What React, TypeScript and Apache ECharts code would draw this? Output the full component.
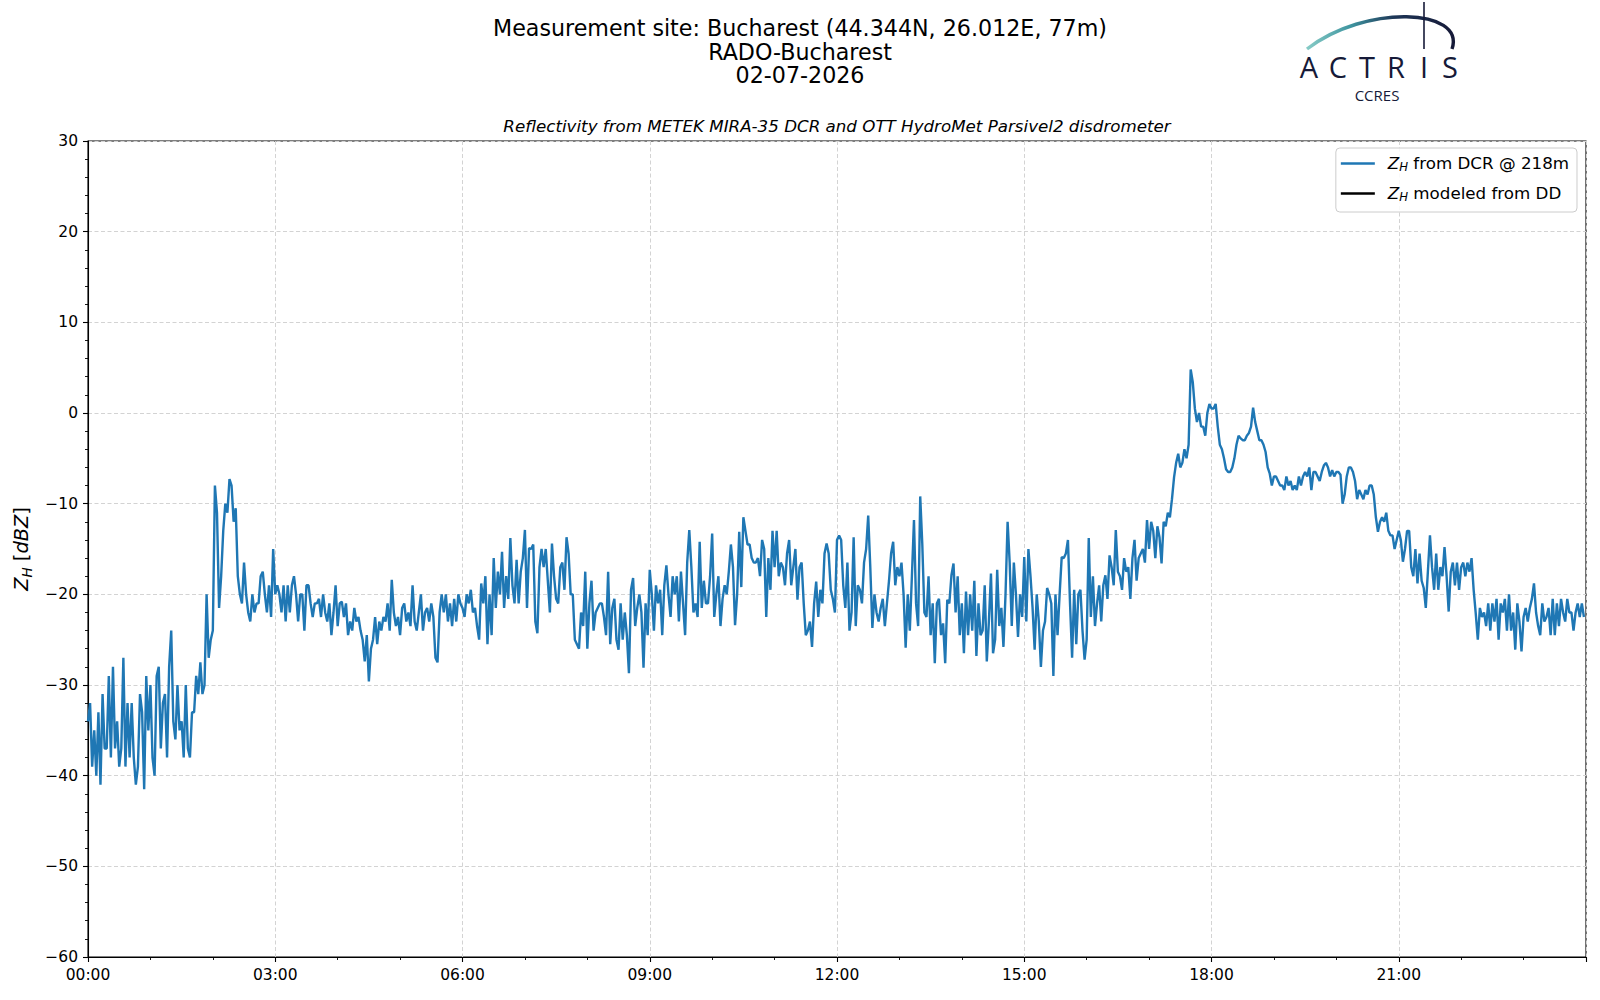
import React, { useEffect, useRef } from "react";
import * as echarts from "echarts";

const FONT = "'DejaVu Sans', sans-serif";
const STEP_MIN = 2;

// Z_H from DCR @ 218m, one value every 2 minutes
const zh0000to0324 = [-34, -32, -39, -35, -40, -33, -41, -31, -37, -37, -29, -38, -28, -37, -34, -39, -37, -27, -39, -32, -38, -32, -38, -41, -39, -31, -33, -41.5, -29, -35, -30, -38, -40, -29, -28, -37, -32, -31, -38, -28, -24, -34, -36, -30, -35, -34, -38, -30, -37, -38, -33, -33, -29, -31, -27.5, -31, -30, -20, -27, -25, -24,
  -8, -11, -21.5, -18, -13, -10, -11, -7.3, -8, -12, -10.5, -18, -20, -21, -16.5, -20, -22, -23, -20, -22, -21, -21, -18, -17.5, -20, -22, -19, -22.5, -15, -20, -19, -20, -22, -19, -23, -19, -22, -19, -18, -20, -23, -20];
const zh0326to0650 = [-20, -24, -19, -19, -21, -22.5, -21, -21, -20.5, -22.5, -20, -22, -23, -21, -24.5, -22, -19, -23.5, -21, -20.8, -22.5, -21, -24.5, -23, -24, -21.5, -23, -22.5, -24, -25, -27.4, -24.5, -29.6, -26, -25, -22.5, -25.5, -23, -24, -22.5, -23, -21, -24, -18.4, -22, -23.5, -22.5, -24.5, -21.5, -21, -23, -22, -23.5, -19, -23, -24, -22, -20, -24, -22, -21.5, -23, -21, -22.5, -27, -27.5, -22, -20, -22, -20, -23, -21, -23.5, -20.5, -23, -20, -21, -21.5, -22.5, -20, -21, -19.5, -22, -21.5, -23.5, -25, -18.8, -21, -18, -25.5, -20, -24.5, -16, -21.5, -17.5, -20, -15.3, -21.5, -18, -20.5, -13.8, -19, -21];
const zh0652to1016 = [-16.2, -21, -17.5, -16, -12.9, -21.5, -14.9, -15, -14.5, -23, -24.3, -17, -15, -17, -15, -18.5, -22, -14.4, -18, -20.5, -21, -17, -16.5, -19.5, -13.7, -15.5, -20, -20, -25, -25.5, -26, -22, -23.5, -17.5, -26, -21, -18.5, -24, -22, -21.5, -21, -21, -22.5, -24.5, -17.5, -25.5, -21.5, -20.5, -25, -26.1, -21, -25, -22, -24.5, -28.7, -19.5, -18.2, -23.5, -21.5, -20, -22, -28.1, -21, -24.5, -17.3, -20, -24, -19, -21, -19.5, -24.5, -19, -16.8, -20, -22.5, -18, -20, -18, -23, -17.5, -21, -24.5, -16.5, -12.9, -17, -22, -21, -22.5, -14.2, -21.5, -18.5, -21, -21, -18, -13.3, -22.5, -20, -18, -23.5, -20.5, -19, -20, -17.5];
const zh1018to1340 = [-14.5, -17, -23.4, -20, -13.1, -19.2, -11.5, -13, -14.5, -14.5, -16, -16.5, -16.5, -16, -18, -14, -15, -22.5, -16, -19.5, -13, -17, -13, -18, -16.5, -17, -19, -15.5, -14, -19, -17, -15, -20.6, -17, -16.5, -21, -24.5, -24, -23, -25.8, -21, -18.6, -22.5, -19.5, -21, -15.5, -14.4, -15.5, -19.5, -20.5, -22, -14, -13.5, -14, -19, -21.5, -16.5, -24, -22, -13.7, -23.5, -19, -19.5, -21, -16.5, -15, -11.3, -17, -23.7, -20, -22, -23, -21.5, -20.5, -23.5, -21, -18.5, -15.5, -14.2, -19, -17, -18, -16.5, -20, -25.9, -20, -24, -18, -11.8, -21, -23.5, -9.2, -14.5, -22, -22.5, -18, -24.5, -21, -27.6, -21, -20.5, -24.5];
const zh1342to1708 = [-23.2, -27.6, -20.6, -21, -17.9, -16.6, -22, -18, -24.5, -21, -26.5, -19.7, -24.5, -20, -24, -18.5, -26.8, -21, -24.5, -24, -19, -27.4, -23, -17.7, -26.5, -25, -17.3, -23.5, -21.5, -25.8, -20, -12, -16.5, -23.5, -16.5, -20, -24.7, -20, -22.5, -15.9, -23, -15, -18, -21.5, -26.1, -20, -23, -28, -24, -23, -19.3, -20, -21, -29, -20, -24.5, -20, -15.9, -16, -15.5, -14, -21, -27, -19.5, -25.5, -20, -19.5, -24, -27.2, -25, -13.8, -22.5, -18, -23.5, -21, -19, -23, -19, -17.9, -20.5, -15.7, -17, -19, -12.9, -17.5, -18, -19.5, -16, -17.5, -17, -20.5, -16, -14, -18.5, -16, -15.5, -15, -16.5, -11.8, -15, -12, -13, -16, -12.5];
const zh1710to2032 = [-13.7, -16.6, -12, -12.5, -11, -11.5, -9.5, -7.1, -5.5, -4.5, -6, -5.5, -4, -5, -3.5, 4.8, 3.4, 0.5, -1, 0, -1.5, -1.5, -2.5, 0, 1, 0.5, 0.5, 1, -1.5, -3.5, -4, -5, -6.2, -6.5, -6.5, -6, -5, -3.5, -2.5, -2.8, -3, -3, -2.5, -2.2, -1.5, 0.6, -1, -2, -3, -3, -3.5, -4.3, -6, -6.7, -8, -7, -7, -7.5, -8, -8, -8.5, -7, -8, -7.5, -8.5, -8, -8.5, -7, -8, -7, -6.5, -7, -6, -8.5, -6.5, -6.5, -7, -7.5, -6.5, -5.8, -5.5, -6, -7, -6.3, -7, -6.5, -6.5, -6.8, -10, -9, -7, -6, -6, -6.5, -7.5, -9.5, -8.5, -9, -9.5, -8.5, -9, -8];
const zh2034to2358 = [-8, -9, -11.5, -13.1, -12, -11.5, -12, -11, -13, -13.5, -13.5, -15, -14, -13, -14, -16.4, -15, -13, -13, -17, -18, -15, -18.8, -15.5, -18.5, -19.3, -21.5, -17.5, -13.5, -17, -19.5, -15.5, -19.5, -17, -18, -14.8, -18, -21.9, -17.5, -16.5, -19, -16.5, -19.5, -17, -16.5, -18, -16.5, -17.5, -16, -19.5, -22.1, -25, -21.5, -22.5, -22, -23.5, -21, -24, -21, -23, -20.5, -25, -21, -22, -20.5, -24, -20, -24, -22, -26.1, -21, -23, -26.3, -22.5, -21.5, -23, -21.5, -20.5, -18.8, -22, -23.5, -24.5, -21, -23, -22.5, -21.5, -24.5, -20.5, -24.5, -21, -23.5, -20.5, -22, -23, -20.5, -22, -22, -24, -22, -21, -22.5, -21, -22.5];

const zhDcr = [...zh0000to0324, ...zh0326to0650, ...zh0652to1016, ...zh1018to1340, ...zh1342to1708, ...zh1710to2032, ...zh2034to2358];
const zhModeled: number[] = [];

const timeLabels = ["00:00", "03:00", "06:00", "09:00", "12:00", "15:00", "18:00", "21:00"];
const titleLines = ["Measurement site: Bucharest (44.344N, 26.012E, 77m)", "RADO-Bucharest", "02-07-2026"];
const subTitle = "Reflectivity from METEK MIRA-35 DCR and OTT HydroMet Parsivel2 disdrometer";
const seriesNames = ["ZH from DCR @ 218m", "ZH modeled from DD"];
const legendRich = ["{z|Z}{s|H}{t| from DCR @ 218m}", "{z|Z}{s|H}{t| modeled from DD}"];
const logoLetters = ["A", "C", "T", "R", "I", "S"];

export default function App() {
  const ref = useRef<HTMLDivElement>(null);
  useEffect(() => {
    const chart = echarts.init(ref.current!, null, { renderer: "svg" });
    const dcrData = zhDcr.map((v, i) => [i * STEP_MIN, v]);
    const letterX = [1309, 1338, 1367, 1396, 1424, 1450];
    const navy = "#161a38";

    const option: any = {
      animation: false,
      backgroundColor: "#ffffff",
      textStyle: { fontFamily: FONT },
      grid: {
        left: 88, right: 14, top: 141, bottom: 43,
        show: true, borderColor: "#000", borderWidth: 1.1, backgroundColor: "transparent",
      },
      xAxis: {
        type: "value", min: 0, max: 1440, interval: 180,
        axisLine: { show: true, onZero: false, lineStyle: { color: "#000", width: 1.1 } },
        axisTick: { show: true, length: 5, lineStyle: { color: "#000", width: 1.1 } },
        minorTick: { show: true, splitNumber: 3, length: 3, lineStyle: { color: "#000", width: 0.9 } },
        axisLabel: {
          color: "#000", fontSize: 15.5, fontFamily: FONT, margin: 10,
          formatter: (v: number) => (v % 180 === 0 && v < 1440 ? timeLabels[v / 180] : ""),
        },
        splitLine: { show: true, lineStyle: { color: "#d3d3d3", width: 1, type: [4, 2.5] } },
      },
      yAxis: {
        type: "value", min: -60, max: 30, interval: 10,
        axisLine: { show: true, onZero: false, lineStyle: { color: "#000", width: 1.1 } },
        axisTick: { show: true, length: 5, lineStyle: { color: "#000", width: 1.1 } },
        minorTick: { show: true, splitNumber: 5, length: 3, lineStyle: { color: "#000", width: 0.9 } },
        axisLabel: {
          color: "#000", fontSize: 15.5, fontFamily: FONT, margin: 10,
          formatter: (v: number) => (v < 0 ? "\u2212" + Math.abs(v) : String(v)),
        },
        splitLine: { show: true, lineStyle: { color: "#d3d3d3", width: 1, type: [4, 2.5] } },
      },
      legend: {
        orient: "vertical", right: 23, top: 148,
        icon: "rect", itemWidth: 34, itemHeight: 2.3, itemGap: 11,
        padding: [6, 8, 9, 5],
        borderColor: "#cccccc", borderWidth: 1, borderRadius: 4,
        backgroundColor: "rgba(255,255,255,0.85)",
        selectedMode: false,
        data: seriesNames,
        formatter: (name: string) => legendRich[seriesNames.indexOf(name)],
        textStyle: {
          color: "#000", fontFamily: FONT, fontSize: 16.7,
          rich: {
            z: { fontSize: 16.7, fontStyle: "italic", fontFamily: FONT, color: "#000", padding: [0, 0, 2, 8], verticalAlign: "bottom" },
            s: { fontSize: 11.7, fontStyle: "italic", fontFamily: FONT, color: "#000", verticalAlign: "bottom" },
            t: { fontSize: 16.7, fontFamily: FONT, color: "#000", padding: [0, 0, 2, 0], verticalAlign: "bottom" },
          },
        },
      },
      series: [
        {
          name: seriesNames[0], type: "line", data: dcrData, showSymbol: false, symbol: "none",
          lineStyle: { color: "#1f77b4", width: 2.4 }, itemStyle: { color: "#1f77b4" },
          silent: true, z: 3,
        },
        {
          name: seriesNames[1], type: "line", data: zhModeled, showSymbol: false, symbol: "none",
          lineStyle: { color: "#000", width: 2.1 }, itemStyle: { color: "#000" },
        },
      ],
      graphic: [
        {
          type: "text", x: 800, y: 51.6,
          style: {
            text: titleLines.join("\n"), fontFamily: FONT, fontSize: 22.2, lineHeight: 23.2,
            fill: "#000", align: "center", verticalAlign: "middle",
          },
        },
        {
          type: "text", x: 837, y: 125.6,
          style: { text: subTitle, fontFamily: FONT, fontSize: 16.7, fontStyle: "italic", fill: "#000", align: "center", verticalAlign: "middle" },
        },
        {
          type: "text", x: 22.5, y: 549, rotation: Math.PI / 2,
          style: {
            text: "{z|Z}{s|H}{t| [}{z|dBZ}{t|]}",
            align: "center", verticalAlign: "middle", fill: "#000",
            rich: {
              z: { fontSize: 19.4, fontStyle: "italic", fontFamily: FONT, fill: "#000", padding: [0, 0, 3, 0], verticalAlign: "bottom" },
              s: { fontSize: 13.6, fontStyle: "italic", fontFamily: FONT, fill: "#000", verticalAlign: "bottom" },
              t: { fontSize: 19.4, fontFamily: FONT, fill: "#000", padding: [0, 0, 3, 0], verticalAlign: "bottom" },
            },
          },
        },
        // ACTRIS CCRES logo
        {
          type: "bezierCurve",
          shape: { x1: 1307, y1: 49, x2: 1452, y2: 49, cpx1: 1365, cpy1: 4, cpx2: 1466, cpy2: 8 },
          style: {
            fill: "none", lineWidth: 3.4,
            stroke: new echarts.graphic.LinearGradient(0, 0, 1, 0, [
              { offset: 0, color: "#86cbc6" },
              { offset: 0.3, color: "#3f95a0" },
              { offset: 0.6, color: "#1d3556" },
              { offset: 1, color: navy },
            ]),
          },
        },
        {
          type: "line", shape: { x1: 1424, y1: 2, x2: 1424, y2: 49 },
          style: { stroke: navy, lineWidth: 1.6 },
        },
        ...logoLetters.map((l, i) => ({
          type: "text", x: letterX[i], y: 66,
          style: { text: l, fontFamily: "'Open Sans', 'DejaVu Sans', sans-serif", fontSize: 29, fill: navy, align: "center", verticalAlign: "middle" },
        })),
        {
          type: "text", x: 1377, y: 95,
          style: { text: "CCRES", fontFamily: "'Open Sans', 'DejaVu Sans', sans-serif", fontSize: 15, fill: navy, align: "center", verticalAlign: "middle" },
        },
      ],
    };
    chart.setOption(option);
    return () => chart.dispose();
  }, []);
  return <div ref={ref} style={{ position: "absolute", left: 0, top: 0, width: 1600, height: 1000 }} />;
}
